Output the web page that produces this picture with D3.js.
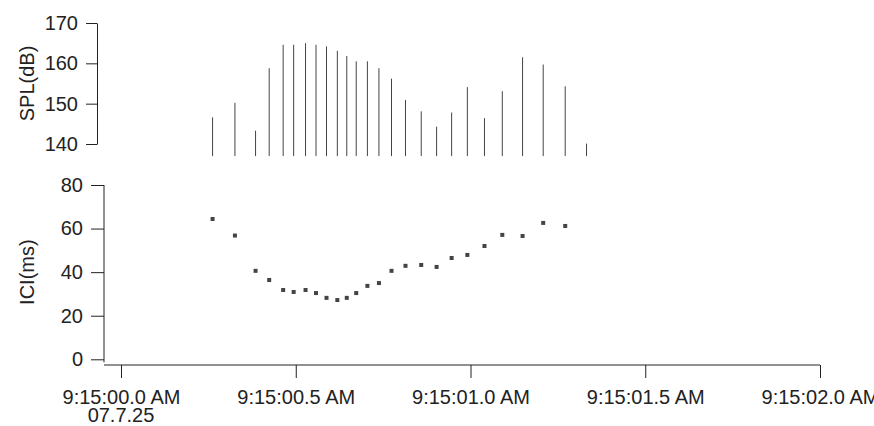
<!DOCTYPE html>
<html><head><meta charset="utf-8">
<script src="https://cdn.jsdelivr.net/npm/d3@7"></script>
<style>body{margin:0;background:#fff;overflow:hidden} text{font-family:"Liberation Sans",Arial,sans-serif;fill:#222}</style>
</head><body><svg id="c" width="874" height="426"></svg>
<script>
// click times in seconds after 9:15:00.0 AM
const clickTimes = [0.262,0.326,0.385,0.424,0.464,0.494,0.528,0.558,0.588,0.619,0.646,0.673,0.705,0.738,0.774,0.814,0.859,0.903,0.946,0.991,1.040,1.091,1.149,1.208,1.271,1.332];
// sound pressure level per click (dB)
const splValues = [146.6,150.2,143.3,158.8,164.6,164.6,165.0,164.6,164.2,163.1,161.8,160.5,160.5,158.8,156.2,150.9,148.1,144.3,147.8,154.1,146.4,153.1,161.5,159.7,154.3,140.1];
// inter-click interval (ms), one per click except the last
const iciValues = [64.4,56.8,40.6,36.4,31.8,30.9,31.8,30.4,28.2,27.2,28.2,30.4,33.7,35.0,40.6,42.9,43.3,42.4,46.5,47.9,52.0,57.1,56.6,62.6,61.2];
const xTickValues = [0,0.5,1,1.5,2];
const xTickLabels = ["9:15:00.0 AM","9:15:00.5 AM","9:15:01.0 AM","9:15:01.5 AM","9:15:02.0 AM"];
const dateLabel = "07.7.25";
const splTicks = [140,150,160,170];
const iciTicks = [0,20,40,60,80];
const splBase = 137;

const svg = d3.select("#c");
const FS = 20;
const x = d3.scaleLinear().domain([0,2]).range([121,820]);
const ySpl = d3.scaleLinear().domain([140,170]).range([144,23]);
const yIci = d3.scaleLinear().domain([0,80]).range([359.3,185]);

// top axis
const gTop = svg.append("g").attr("transform","translate(97,0)")
  .call(d3.axisLeft(ySpl).tickValues(splTicks).tickSize(11).tickSizeOuter(0).tickPadding(8));
// bottom y axis
const gBot = svg.append("g").attr("transform","translate(104,0)")
  .call(d3.axisLeft(yIci).tickValues(iciTicks).tickSize(13).tickSizeOuter(0).tickPadding(8));
gBot.select(".domain").attr("d", `M0,${yIci(0)+3}V${yIci(80)}`);
// x axis
const gX = svg.append("g").attr("transform","translate(0,365)")
  .call(d3.axisBottom(x).tickValues(xTickValues).tickSize(13).tickSizeOuter(0).tickFormat((d,i)=>xTickLabels[i]));
gX.select(".domain").attr("d", `M${x.range()[0]-17},0H${x.range()[1]}`);
gX.selectAll(".tick text").attr("y",39).attr("dy",0);
gX.append("text").attr("x",x(0)).attr("y",57).attr("text-anchor","middle")
  .attr("font-size",FS).attr("fill","#222").text(dateLabel);

svg.selectAll(".domain, .tick line").attr("stroke","#222");
svg.selectAll(".tick text").attr("font-size",FS).attr("font-family",null).attr("fill","#222");

// bars (SPL)
svg.append("g").selectAll("line").data(clickTimes).join("line")
  .attr("x1",d=>x(d)).attr("x2",d=>x(d))
  .attr("y1",ySpl(splBase)).attr("y2",(d,i)=>ySpl(splValues[i]))
  .attr("stroke","#444").attr("stroke-width",1);

// ICI points
svg.append("g").selectAll("rect").data(iciValues).join("rect")
  .attr("x",(d,i)=>x(clickTimes[i])-2).attr("y",d=>yIci(d)-2)
  .attr("width",4).attr("height",4).attr("fill","#444");

// axis titles
svg.append("text").attr("transform",`translate(27,${(ySpl(140)+ySpl(170))/2}) rotate(-90)`)
  .attr("text-anchor","middle").attr("dy","0.35em").attr("font-size",FS).text("SPL(dB)");
svg.append("text").attr("transform",`translate(27,${(yIci(0)+yIci(80))/2}) rotate(-90)`)
  .attr("text-anchor","middle").attr("dy","0.35em").attr("font-size",FS).text("ICI(ms)");
</script></body></html>
